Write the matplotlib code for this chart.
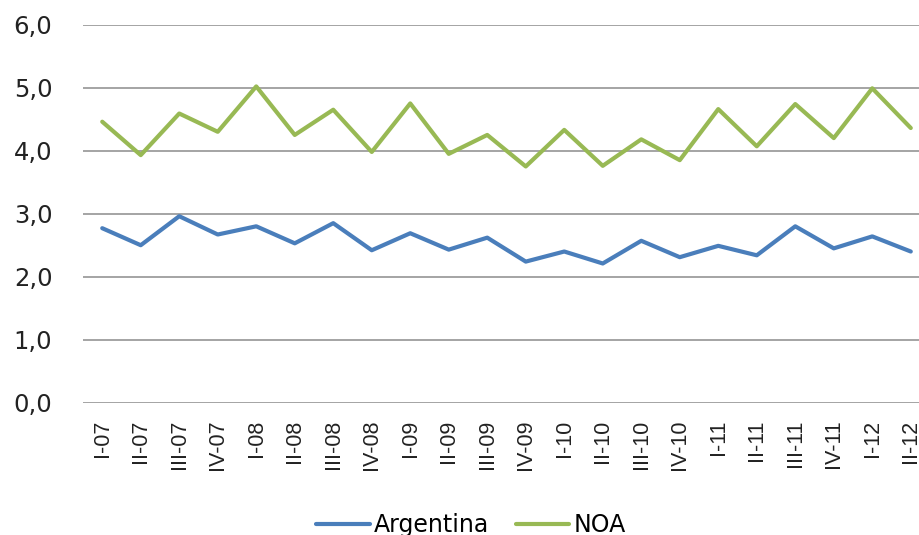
import matplotlib.pyplot as plt

# ============ datos ============
trimestres = ["I-07", "II-07", "III-07", "IV-07", "I-08", "II-08", "III-08", "IV-08",
              "I-09", "II-09", "III-09", "IV-09", "I-10", "II-10", "III-10", "IV-10",
              "I-11", "II-11", "III-11", "IV-11", "I-12", "II-12"]
argentina = [2.77, 2.50, 2.96, 2.67, 2.80, 2.53, 2.85, 2.42, 2.69, 2.43, 2.62,
             2.24, 2.40, 2.21, 2.57, 2.31, 2.49, 2.34, 2.80, 2.45, 2.64, 2.40]
noa = [4.46, 3.93, 4.59, 4.30, 5.02, 4.25, 4.65, 3.98, 4.75, 3.95, 4.25,
       3.75, 4.33, 3.76, 4.18, 3.85, 4.66, 4.07, 4.74, 4.20, 4.99, 4.36]
yticks = [0, 1, 2, 3, 4, 5, 6]

# ============ figura ============
fig = plt.figure(figsize=(9.2, 5.35), dpi=100)
ax = fig.add_axes([0.0902, 0.2472, 0.9207, 0.7067])

x = list(range(len(trimestres)))
ax.plot(x, argentina, color="#4A7EBB", lw=3.0, label="Argentina", solid_capstyle="round")
ax.plot(x, noa, color="#98B954", lw=3.0, label="NOA", solid_capstyle="round")

ax.set_xlim(-0.5, len(trimestres) - 0.5)
ax.set_ylim(0, 6)
ax.set_yticks(yticks)
ax.set_yticklabels([f"{v:.1f}".replace(".", ",") for v in yticks],
                   fontsize=17.5, family="DejaVu Sans", color="#222222")
ax.set_xticks(x)
ax.set_xticklabels(trimestres, rotation=90, fontsize=15.5, family="Liberation Sans",
                   color="#222222")
ax.tick_params(axis="y", length=0, pad=22)
ax.tick_params(axis="x", length=0, pad=12)

ax.grid(axis="y", color="#8C8C8C", lw=1.1)
ax.set_axisbelow(True)
for s in ax.spines.values():
    s.set_visible(False)

fig.legend(loc="center", bbox_to_anchor=(0.512, 0.019), ncol=2, frameon=False,
           prop={"family": "DejaVu Sans", "size": 17}, handlelength=2.25,
           handletextpad=0.2, columnspacing=1.1)

fig.savefig("out.png", dpi=100)
